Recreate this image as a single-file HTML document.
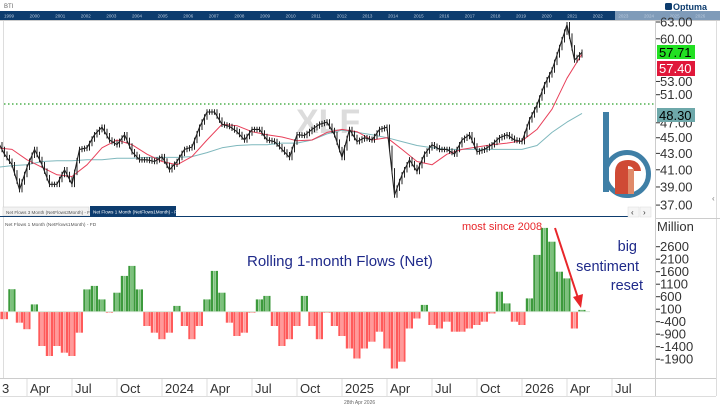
<!DOCTYPE html>
<html><head><meta charset="utf-8"><style>
html,body{margin:0;padding:0;background:#fff;}
svg{display:block;font-family:"Liberation Sans",sans-serif;}
</style></head><body>
<svg id="chart" width="720" height="410" viewBox="0 0 720 410" xmlns="http://www.w3.org/2000/svg">
<rect x="0" y="0" width="720" height="410" fill="#fff"/>
<text x="4" y="8" font-size="6" fill="#666">BTI</text>
<g>
<rect x="665" y="3" width="7" height="7" rx="1.5" fill="#0d3c6e"/>
<text x="673" y="10" font-size="9" fill="#0d3c6e" font-weight="bold">Optuma</text>
</g>
<g>
<rect x="0" y="11" width="615" height="9" fill="#0d3c6e"/>
<rect x="615" y="11" width="105" height="9" fill="#7f9bb9"/>
<g id="navYears" font-size="4.5" fill="#b9c9dc"></g>
</g>
<line x1="0" y1="20.5" x2="720" y2="20.5" stroke="#ccc"/>
<line x1="3.5" y1="21" x2="3.5" y2="378" stroke="#ddd"/>
<line x1="655.5" y1="21" x2="655.5" y2="396" stroke="#ccc"/>
<line x1="716.5" y1="21" x2="716.5" y2="396" stroke="#ddd"/>
<text x="296" y="133" font-size="34" font-weight="bold" fill="#dcdcdc">XLF</text>
<line x1="4" y1="104" x2="655" y2="104" stroke="#2aa02a" stroke-width="1.3" stroke-dasharray="1.5,2.5"/>
<g id="price"></g>
<g id="priceAxis" font-size="13" fill="#333"></g>
<g>
<rect x="657" y="45" width="38" height="14" fill="#22e022"/><text x="659" y="57" font-size="13" fill="#000">57.71</text>
<rect x="657" y="61" width="38" height="15" fill="#e0183a"/><text x="659" y="73" font-size="13" fill="#fff">57.40</text>
<rect x="657" y="108" width="38" height="14" fill="#6ea8aa"/><text x="659" y="120" font-size="13" fill="#000">48.30</text>
</g>
<g>
<rect x="603" y="112" width="6" height="80" fill="#3f7fa6"/>
<circle cx="627" cy="174" r="21.5" fill="none" stroke="#3f7fa6" stroke-width="5"/>
<path d="M615 194 L615 173 Q615 160 628 160 Q640 160 641 171 L634 171 Q633 166 628 166 L628 194 Z" fill="#cf4a35"/>
<rect x="628" y="169" width="6" height="25" fill="#e08a6a"/>
</g>
<text x="712" y="201" font-size="8" fill="#777">‹</text>
<g>
<rect x="3" y="207" width="86" height="9" fill="#f2f2f2" stroke="#ccc" stroke-width="0.5"/>
<text x="6" y="214" font-size="4.6" fill="#555">Net Flows 3 Month (NetFlows3Month) - FD</text>
<rect x="90" y="206" width="86" height="10" fill="#0d3c6e"/>
<text x="93" y="213.5" font-size="4.6" fill="#fff">Net Flows 1 Month (NetFlows1Month) - FD</text>
</g>
<line x1="0" y1="216.5" x2="628" y2="216.5" stroke="#0d3c6e" stroke-width="1"/>
<g>
<rect x="628" y="207" width="11" height="10" fill="#f5f5f5" stroke="#ddd" stroke-width="0.5"/>
<rect x="640" y="207" width="11" height="10" fill="#f5f5f5" stroke="#ddd" stroke-width="0.5"/>
<text x="631" y="215" font-size="8" fill="#333">‹</text><text x="643" y="215" font-size="8" fill="#333">›</text>
</g>
<line x1="655" y1="218.5" x2="720" y2="218.5" stroke="#ccc"/>
<text x="5" y="226" font-size="4.8" fill="#555">Net Flows 1 Month (NetFlows1Month) - FD</text>
<text x="657" y="231" font-size="13" fill="#333">Million</text>
<g id="flows"></g>
<g id="flowAxis" font-size="13" fill="#333"></g>
<text x="247" y="266" font-size="15" fill="#1f2a8a">Rolling 1-month Flows (Net)</text>
<text x="462" y="230" font-size="11" fill="#e8262a">most since 2008</text>
<g font-size="14.5" fill="#1f2a8a" text-anchor="end">
<text x="637" y="251">big</text><text x="639" y="271">sentiment</text><text x="643" y="290">reset</text>
</g>
<g>
<line x1="555" y1="228" x2="578" y2="298" stroke="#e8262a" stroke-width="2"/>
<polygon points="581,308 573,297 583,294" fill="#e8262a"/>
</g>
<line x1="0" y1="378.5" x2="716" y2="378.5" stroke="#ccc"/>
<line x1="0" y1="396.5" x2="716" y2="396.5" stroke="#ddd"/>
<g id="xAxis" font-size="13" fill="#333"></g>
<text x="344" y="404" font-size="5" fill="#666">28th Apr 2026</text>
<script>
// months since Jan 2023 (half-month steps) for price closes
const priceStart = 1, priceStep = 0.5;
const priceCloses = [44.7,42.9,41.6,38.7,41.3,43.5,41.6,39.3,39.3,41.0,39.3,43.5,43.7,45.4,46.4,44.7,44.1,45.4,43.2,42.2,42.2,42.0,42.6,41.0,42.0,43.5,43.8,46.4,48.5,48.5,46.8,46.5,45.8,44.7,46.1,46.1,44.7,44.5,43.5,42.5,45.4,45.3,46.1,46.8,47.1,45.4,42.5,46.1,44.5,45.0,44.7,46.1,46.4,38.1,40.4,42.2,40.8,42.9,44.1,43.5,43.5,42.9,44.7,45.4,43.2,43.5,44.1,45.0,45.4,44.7,44.5,47.4,49.5,52.5,54.8,58.5,62.5,56.4,57.7];
// monthly moving averages (months 1..40)
const maStart = 1, maStep = 1;
const ma50 = [43.7,43.5,42.2,41.3,40.4,40.2,41.6,43.7,44.7,44.1,42.9,42.0,41.6,42.6,44.7,46.8,46.6,45.8,45.4,45.1,44.6,44.7,45.7,46.1,45.8,44.7,45.0,43.5,42.0,41.6,42.9,43.5,43.8,44.1,44.3,44.6,46.1,48.9,53.5,57.4];
const ma200 = [41.3,41.5,41.6,42.0,42.1,42.1,42.2,42.2,42.4,42.4,42.5,42.5,42.5,42.6,43.1,43.7,44.0,44.1,44.1,44.3,44.3,44.7,45.5,46.0,45.7,45.4,45.0,44.5,44.0,43.7,43.5,43.5,43.5,43.5,43.5,43.5,44.0,45.7,47.1,48.3];
// net flows (million USD), half-month steps from month 1
const flowStart = 1, flowStep = 0.5;
const flows = [-300,-300,900,-440,-700,290,-1370,-1770,-1370,-1640,-1770,-840,890,1030,490,-40,760,1430,1830,890,-570,-840,-1100,-840,230,-570,-1100,-570,490,1630,760,-440,-970,-840,-40,490,630,-570,-1370,-1100,-570,630,-570,-1100,-40,-570,-970,-1470,-1870,-1470,-1200,-800,-1470,-2270,-2000,-670,-270,270,-530,-670,-400,-800,-800,-670,-530,-400,-70,800,330,-400,-530,530,2270,3350,2800,1600,1330,-670,70];
const priceTicks = ["63.00","60.00","53.00","51.00","47.00","45.00","43.00","41.00","39.00","37.00"];
const flowTicks = ["2600","2100","1600","1100","600","100","-400","-900","-1400","-1900"];
const xTickMonths = [3,6,9,12,15,18,21,24,27,30,33,36,39,42];
const xTickLabels = ["Apr","Jul","Oct","2024","Apr","Jul","Oct","2025","Apr","Jul","Oct","2026","Apr","Jul"];
const navYears = ["1999","2000","2001","2002","2003","2004","2005","2006","2007","2008","2009","2010","2011","2012","2013","2014","2015","2016","2017","2018","2019","2020","2021","2022","2023","2024","2025","2026"];

const NS = "http://www.w3.org/2000/svg";
const X = m => -18 + m * 15;
const YP = p => 22 + Math.log(63 / p) / 0.002907;
const YF = v => 311.7 - v * 0.025;
function mk(tag, attrs, parent) {
  const e = document.createElementNS(NS, tag);
  for (const k in attrs) e.setAttribute(k, attrs[k]);
  parent.appendChild(e);
  return e;
}
const nav = document.getElementById('navYears');
navYears.forEach((y, i) => {
  const t = mk('text', {x: 4 + i * 25.6, y: 17.5}, nav);
  t.textContent = y;
  
  
});
const pg = document.getElementById('price');
function line(arr, start, step, color, w, name) {
  const pts = arr.map((v, i) => X(start + i * step).toFixed(1) + ',' + YP(v).toFixed(1)).join(' ');
  const pl = mk('polyline', {points: pts, fill: 'none', stroke: color, 'stroke-width': w, 'stroke-linejoin': 'round'}, pg);
  
  
}
line(ma200, maStart, maStep, '#7fb8bd', 1, 'ma200-line');
line(ma50, maStart, maStep, '#e8405a', 1, 'ma50-line');
priceCloses.forEach((v, i) => {
  if (i === 0) return;
  const p = priceCloses[i - 1];
  const x0 = X(priceStart + (i - 1) * priceStep), x1 = X(priceStart + i * priceStep);
  for (let k = 1; k <= 3; k++) {
    const xx = x0 + (x1 - x0) * k / 3;
    const a = p + (v - p) * (k - 1) / 3, b = p + (v - p) * k / 3;
    const hi = Math.max(a, b) * 1.008, lo = Math.min(a, b) * 0.992;
    const r = mk('line', {x1: xx.toFixed(1), x2: xx.toFixed(1), y1: YP(hi).toFixed(1), y2: YP(lo).toFixed(1), stroke: '#222', 'stroke-width': 1}, pg);
    
    
  }
});
line(priceCloses, priceStart, priceStep, '#222', 1.1, 'price-line');
const pa = document.getElementById('priceAxis');
priceTicks.forEach(s => {
  const y = YP(parseFloat(s));
  mk('line', {x1: 656, x2: 660, y1: y, y2: y, stroke: '#333'}, pa);
  const t = mk('text', {x: 660, y: y + 4.5}, pa);
  t.textContent = s;
  
  
});
const fg = document.getElementById('flows');
flows.forEach((v, i) => {
  const xc = X(flowStart + i * flowStep);
  for (let k = 0; k < 3; k++) {
    const xx = xc - 3.75 + k * 2.5;
    const col = v >= 0 ? (k === 1 ? '#7cc27c' : '#3c9a3c') : (k === 1 ? '#ff9a9a' : '#ff5a5a');
    const y0 = YF(0), y1 = YF(v);
    const r = mk('rect', {x: xx.toFixed(1), width: 2.2, y: Math.min(y0, y1).toFixed(1), height: Math.abs(y1 - y0).toFixed(1), fill: col}, fg);
    
    
  }
});
mk('line', {x1: 4, x2: 590, y1: YF(0), y2: YF(0), stroke: '#cfe3cf', 'stroke-width': 0.8}, fg);
const fa = document.getElementById('flowAxis');
flowTicks.forEach(s => {
  const y = YF(parseFloat(s));
  mk('line', {x1: 656, x2: 660, y1: y, y2: y, stroke: '#333'}, fa);
  const t = mk('text', {x: 660, y: y + 4.5}, fa);
  t.textContent = s;
  
  
});
const xa = document.getElementById('xAxis');
const t0 = mk('text', {x: 2, y: 393}, xa);
t0.textContent = '3';


xTickMonths.forEach((m, i) => {
  const x = X(m);
  mk('line', {x1: x, x2: x, y1: 379, y2: 396, stroke: '#ddd'}, xa);
  const t = mk('text', {x: x + 3, y: 393}, xa);
  t.textContent = xTickLabels[i];
  
  
});
</script>
</svg>
</body></html>
